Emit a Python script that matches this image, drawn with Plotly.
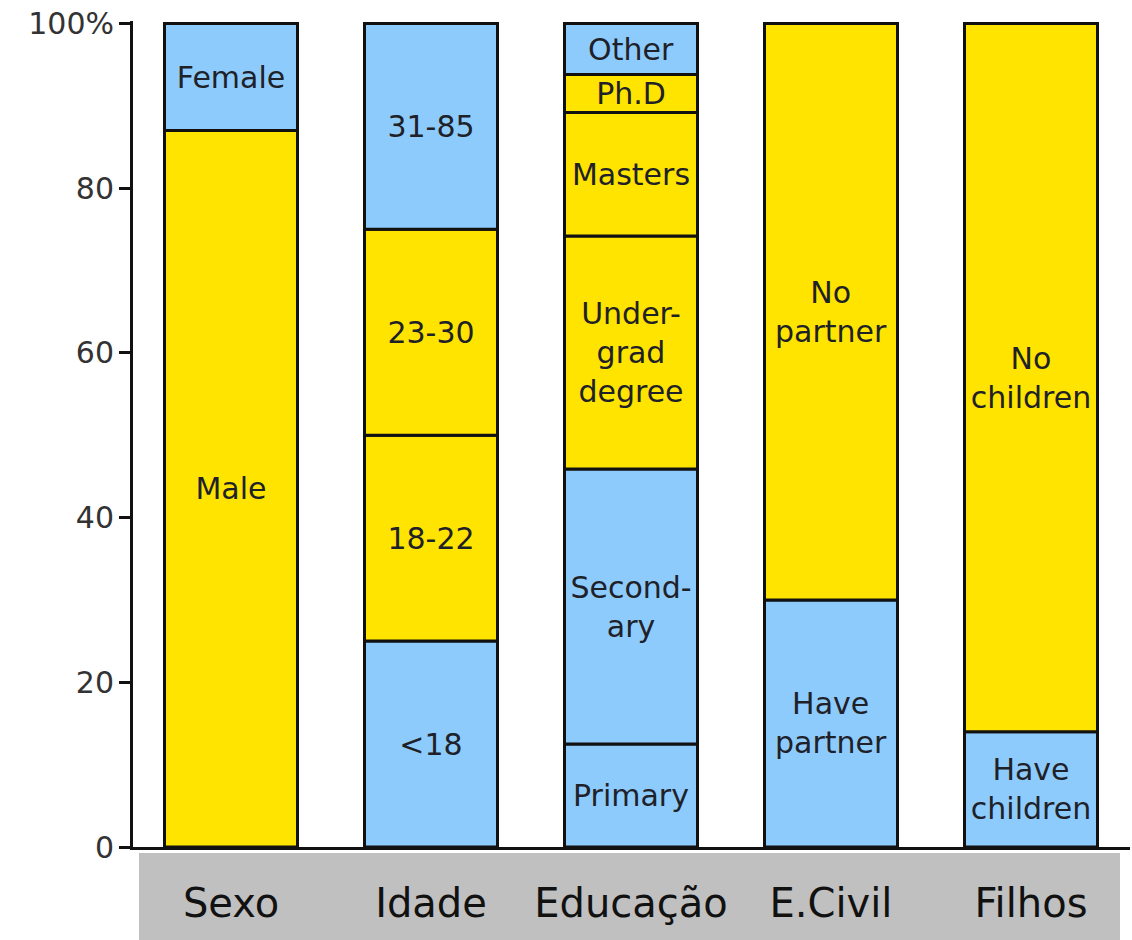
import plotly.graph_objects as go

categories = ["Sexo", "Idade", "Educação", "E.Civil", "Filhos"]

sexo_labels = ["Male", "Female"]
sexo_values = [87, 13]
sexo_kind = ["y", "b"]

idade_labels = ["<18", "18-22", "23-30", "31-85"]
idade_values = [25, 25, 25, 25]
idade_kind = ["b", "y", "y", "b"]

edu_labels = ["Primary", "Second-<br>ary", "Under-<br>grad<br>degree", "Masters", "Ph.D", "Other"]
edu_values = [12.5, 33.4, 28.3, 15.0, 4.6, 6.2]
edu_kind = ["b", "b", "y", "y", "y", "b"]

civil_labels = ["Have<br>partner", "No<br>partner"]
civil_values = [30, 70]
civil_kind = ["b", "y"]

filhos_labels = ["Have<br>children", "No<br>children"]
filhos_values = [14, 86]
filhos_kind = ["b", "y"]

y_tickvals = [0, 20, 40, 60, 80, 100]
y_ticktext = ["0", "20", "40", "60", "80", "100%"]

BLUE = "#8ECBFD"
YELLOW = "#FFE400"
colors = {"b": BLUE, "y": YELLOW}

groups = [
    (sexo_labels, sexo_values, sexo_kind),
    (idade_labels, idade_values, idade_kind),
    (edu_labels, edu_values, edu_kind),
    (civil_labels, civil_values, civil_kind),
    (filhos_labels, filhos_values, filhos_kind),
]

fig = go.Figure()
for cat, (labels, values, kinds) in zip(categories, groups):
    base = 0
    for lab, val, k in zip(labels, values, kinds):
        fig.add_trace(go.Bar(
            x=[cat], y=[val], base=[base],
            width=0.665,
            marker=dict(color=colors[k], line=dict(color="#111", width=3)),
            text=[lab], textposition="inside", insidetextanchor="middle",
            textangle=0,
            textfont=dict(family="DejaVu Sans", size=30, color="#1e2228"),
            showlegend=False, hoverinfo="skip",
        ))
        base += val

fig.update_layout(
    width=1132, height=940,
    margin=dict(l=133, r=2, t=21, b=93),
    paper_bgcolor="white", plot_bgcolor="white",
    barmode="overlay",
    uniformtext=dict(minsize=30, mode="show"),
    font=dict(family="DejaVu Sans"),
    xaxis=dict(
        type="category", range=[-0.49, 4.495], automargin=False,
        showline=True, linecolor="#111", linewidth=3,
        ticks="outside", ticklen=19, tickcolor="rgba(0,0,0,0)",
        tickfont=dict(family="DejaVu Sans", size=40, color="#111"),
        showgrid=False, zeroline=False,
    ),
    yaxis=dict(
        range=[0, 100.3], automargin=False,
        tickvals=y_tickvals, ticktext=y_ticktext,
        showline=True, linecolor="#111", linewidth=3,
        ticks="outside", ticklen=11, tickwidth=3, tickcolor="#111",
        ticklabelstandoff=-1, ticklabeloverflow="allow",
        tickfont=dict(family="DejaVu Sans", size=30, color="#333"),
        showgrid=False, zeroline=False,
    ),
    shapes=[dict(
        type="rect", xref="paper", yref="paper",
        x0=0.006, x1=0.99, y0=-0.0073, y1=-0.2,
        fillcolor="#C0C0C0", line=dict(width=0), layer="below",
    )],
)

fig.write_html("out.html", config={"displayModeBar": False},
               post_script="document.body.style.margin='0px';")
